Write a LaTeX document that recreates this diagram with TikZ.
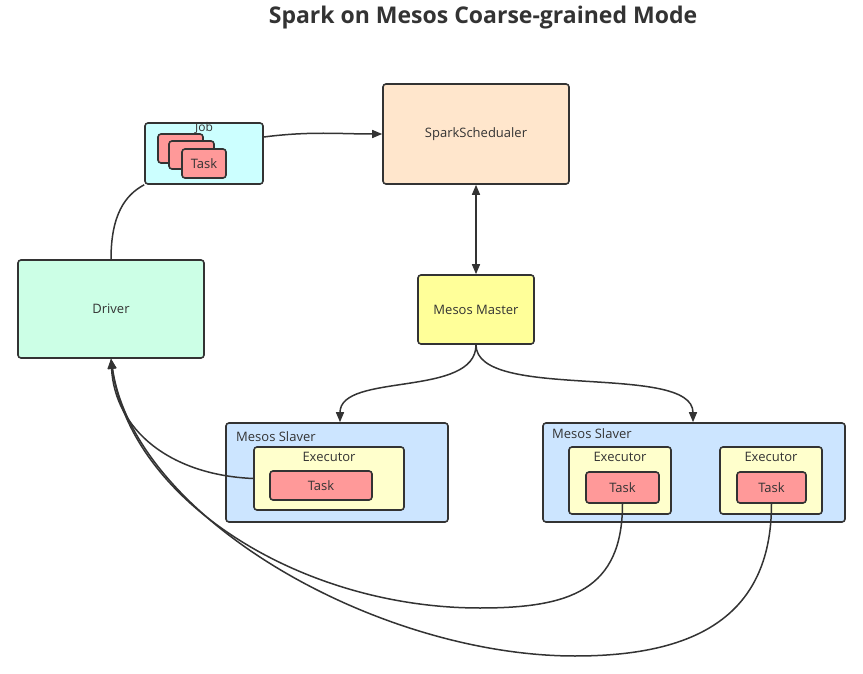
\documentclass[tikz,border=0pt]{standalone}
\usepackage{fontspec}
\setmainfont{Open Sans}
\usetikzlibrary{arrows.meta}
\definecolor{cline}{HTML}{333333}
\definecolor{cJob}{HTML}{CCFFFF}
\definecolor{cSched}{HTML}{FFE6CC}
\definecolor{cMaster}{HTML}{FFFF99}
\definecolor{cDriver}{HTML}{CCFFE6}
\definecolor{cSlave}{HTML}{CCE5FF}
\definecolor{cExec}{HTML}{FFFFCC}
\definecolor{cTask}{HTML}{FF9999}
\tikzset{
  box/.style={draw=cline, line width=1.6pt, rounded corners=3pt, inner sep=0pt, text=cline, font=\fontsize{13}{15}\selectfont},
  lbl/.style={inner sep=0pt, text=cline, font=\fontsize{13}{15}\selectfont},
  conn/.style={draw=cline, line width=1.5pt},
  tip/.style={-{Triangle[length=10pt,width=8pt]}},
}
\begin{document}
\begin{tikzpicture}[x=1pt,y=-1pt]
\useasboundingbox (0,0) rectangle (863,674);
\fill[white] (0,0) rectangle (863,674);
% title
\node[lbl, font=\fontsize{23}{27}\selectfont\bfseries] (title) at (483,18) {Spark on Mesos Coarse-grained Mode};
% job
\node[box, fill=cJob, minimum width=118pt, minimum height=61pt] (job) at (204,153.5) {};
\node[lbl, font=\fontsize{12}{13}\selectfont] (joblbl) at (204,128) {Job};
\node[box, fill=cTask, minimum width=45pt, minimum height=29pt] (jt1) at (180.5,148.5) {};
\node[box, fill=cTask, minimum width=45pt, minimum height=28pt] (jt2) at (191.5,155) {};
\node[box, fill=cTask, minimum width=44pt, minimum height=29pt] (jt3) at (204,163.5) {Task};
% scheduler
\node[box, fill=cSched, minimum width=186pt, minimum height=100pt] (sched) at (476,134) {SparkSchedualer};
% master
\node[box, fill=cMaster, minimum width=116pt, minimum height=69pt] (master) at (476,309.5) {Mesos Master};
% driver
\node[box, fill=cDriver, minimum width=186pt, minimum height=98pt] (driver) at (111,309) {Driver};
% slaver 1
\node[box, fill=cSlave, minimum width=222pt, minimum height=99pt] (s1) at (337,472.5) {};
\node[lbl, anchor=west] (s1lbl) at (236,437) {Mesos Slaver};
\node[box, fill=cExec, minimum width=150pt, minimum height=63pt] (e1) at (329,478.5) {};
\node[lbl] (e1lbl) at (329,457) {Executor};
\node[box, fill=cTask, minimum width=102pt, minimum height=29pt] (t1) at (321,485.5) {Task};
% slaver 2
\node[box, fill=cSlave, minimum width=302pt, minimum height=99pt] (s2) at (694,472.5) {};
\node[lbl, anchor=west] (s2lbl) at (552,434) {Mesos Slaver};
\node[box, fill=cExec, minimum width=102pt, minimum height=67pt] (e2) at (620,480.5) {};
\node[lbl] (e2lbl) at (620,457) {Executor};
\node[box, fill=cTask, minimum width=73pt, minimum height=31pt] (t2) at (622.5,487.5) {Task};
\node[box, fill=cExec, minimum width=102pt, minimum height=67pt] (e3) at (771,480.5) {};
\node[lbl] (e3lbl) at (771,457) {Executor};
\node[box, fill=cTask, minimum width=69pt, minimum height=31pt] (t3) at (771.5,487.5) {Task};
% connectors
\draw[conn] (driver.north) .. controls (111,215) and (125,195) .. (job.south west);
\draw[conn,tip] (job.east |- 0,137) .. controls (310,131) and (340,134) .. (sched.west);
\draw[conn,{Triangle[length=10pt,width=8pt]}-{Triangle[length=10pt,width=8pt]}] (sched.south) -- (master.north);
\draw[conn,tip] (master.south) .. controls (476,398) and (340,372) .. (s1.north -| 340,0);
\draw[conn,tip] (master.south) .. controls (476,402) and (693,362) .. (s2.north -| 693,0);
\draw[conn,tip] (e1.west) .. controls (170,475) and (115,430) .. (driver.south);
\coordinate (b2) at (480,608);
\coordinate (b3) at (575,656);
\draw[conn,tip] (t2.south) .. controls (622.5,590) and (570,608) .. (b2) .. controls (300,608) and (130,500) .. (driver.south);
\draw[conn,tip] (t3.south) .. controls (771.5,620) and (690,656) .. (b3) .. controls (380,656) and (135,520) .. (driver.south);
\end{tikzpicture}
\end{document}
